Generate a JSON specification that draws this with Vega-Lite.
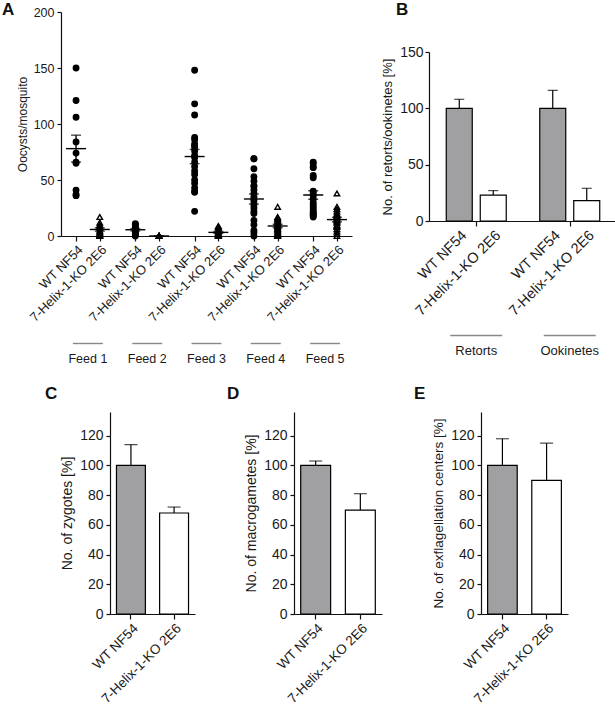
{
"$schema": "https://vega.github.io/schema/vega-lite/v6.json",
"padding": {"left": 2, "top": 1, "right": 0, "bottom": 0},
"config": {
  "view": {"stroke": null},
  "font": "Liberation Sans",
  "axis": {"grid": false, "labelFont": "Liberation Sans", "titleFont": "Liberation Sans", "labelColor": "#1a1a1a", "titleColor": "#1a1a1a", "domainColor": "#111", "tickColor": "#111", "domainWidth": 1.2, "tickWidth": 1.2, "titleFontWeight": "normal", "tickSize": 4},
  "text": {"font": "Liberation Sans", "color": "#1a1a1a"},
  "title": {"font": "Liberation Sans", "fontSize": 17, "fontWeight": "bold", "color": "#111", "anchor": "start", "frame": "group", "baseline": "alphabetic"}
},
"datasets": {
  "oocysts": [
    {"cat":"1W","s":"WT","v":150},{"cat":"1W","s":"WT","v":121},{"cat":"1W","s":"WT","v":106},{"cat":"1W","s":"WT","v":84},{"cat":"1W","s":"WT","v":74},{"cat":"1W","s":"WT","v":66},{"cat":"1W","s":"WT","v":65},{"cat":"1W","s":"WT","v":41},{"cat":"1W","s":"WT","v":37},{"cat":"1W","s":"WT","v":36},
    {"cat":"1K","s":"KO","v":17},{"cat":"1K","s":"KO","v":12},{"cat":"1K","s":"KO","v":10},{"cat":"1K","s":"KO","v":9},{"cat":"1K","s":"KO","v":7},{"cat":"1K","s":"KO","v":5},{"cat":"1K","s":"KO","v":4},{"cat":"1K","s":"KO","v":3},{"cat":"1K","s":"KO","v":2},{"cat":"1K","s":"KO","v":1},{"cat":"1K","s":"KO","v":0},{"cat":"1K","s":"KO","v":0},
    {"cat":"2W","s":"WT","v":11},{"cat":"2W","s":"WT","v":10},{"cat":"2W","s":"WT","v":10},{"cat":"2W","s":"WT","v":8},{"cat":"2W","s":"WT","v":7},{"cat":"2W","s":"WT","v":6},{"cat":"2W","s":"WT","v":5},{"cat":"2W","s":"WT","v":4},{"cat":"2W","s":"WT","v":3},{"cat":"2W","s":"WT","v":2},{"cat":"2W","s":"WT","v":1},{"cat":"2W","s":"WT","v":0},
    {"cat":"2K","s":"KO","v":0},{"cat":"2K","s":"KO","v":0},{"cat":"2K","s":"KO","v":0},{"cat":"2K","s":"KO","v":0},{"cat":"2K","s":"KO","v":0},{"cat":"2K","s":"KO","v":0},{"cat":"2K","s":"KO","v":0},{"cat":"2K","s":"KO","v":0},
    {"cat":"3W","s":"WT","v":148},{"cat":"3W","s":"WT","v":118},{"cat":"3W","s":"WT","v":108},{"cat":"3W","s":"WT","v":88},{"cat":"3W","s":"WT","v":86},{"cat":"3W","s":"WT","v":82},{"cat":"3W","s":"WT","v":81},{"cat":"3W","s":"WT","v":79},{"cat":"3W","s":"WT","v":76},{"cat":"3W","s":"WT","v":72},{"cat":"3W","s":"WT","v":70},{"cat":"3W","s":"WT","v":66},{"cat":"3W","s":"WT","v":62},{"cat":"3W","s":"WT","v":58},{"cat":"3W","s":"WT","v":55},{"cat":"3W","s":"WT","v":50},{"cat":"3W","s":"WT","v":47},{"cat":"3W","s":"WT","v":43},{"cat":"3W","s":"WT","v":40},{"cat":"3W","s":"WT","v":39},{"cat":"3W","s":"WT","v":22},
    {"cat":"3K","s":"KO","v":9},{"cat":"3K","s":"KO","v":8},{"cat":"3K","s":"KO","v":7},{"cat":"3K","s":"KO","v":5},{"cat":"3K","s":"KO","v":4},{"cat":"3K","s":"KO","v":3},{"cat":"3K","s":"KO","v":2},{"cat":"3K","s":"KO","v":2},{"cat":"3K","s":"KO","v":1},{"cat":"3K","s":"KO","v":1},{"cat":"3K","s":"KO","v":0},{"cat":"3K","s":"KO","v":0},{"cat":"3K","s":"KO","v":0},
    {"cat":"4W","s":"WT","v":69},{"cat":"4W","s":"WT","v":69},{"cat":"4W","s":"WT","v":60},{"cat":"4W","s":"WT","v":53},{"cat":"4W","s":"WT","v":49},{"cat":"4W","s":"WT","v":45},{"cat":"4W","s":"WT","v":44},{"cat":"4W","s":"WT","v":41},{"cat":"4W","s":"WT","v":38},{"cat":"4W","s":"WT","v":35},{"cat":"4W","s":"WT","v":33},{"cat":"4W","s":"WT","v":31},{"cat":"4W","s":"WT","v":28},{"cat":"4W","s":"WT","v":25},{"cat":"4W","s":"WT","v":22},{"cat":"4W","s":"WT","v":20},{"cat":"4W","s":"WT","v":14},{"cat":"4W","s":"WT","v":10},{"cat":"4W","s":"WT","v":5},{"cat":"4W","s":"WT","v":3},{"cat":"4W","s":"WT","v":0},
    {"cat":"4K","s":"KO","v":26},{"cat":"4K","s":"KO","v":17},{"cat":"4K","s":"KO","v":16},{"cat":"4K","s":"KO","v":15},{"cat":"4K","s":"KO","v":14},{"cat":"4K","s":"KO","v":13},{"cat":"4K","s":"KO","v":12},{"cat":"4K","s":"KO","v":11},{"cat":"4K","s":"KO","v":10},{"cat":"4K","s":"KO","v":9},{"cat":"4K","s":"KO","v":8},{"cat":"4K","s":"KO","v":7},{"cat":"4K","s":"KO","v":6},{"cat":"4K","s":"KO","v":5},{"cat":"4K","s":"KO","v":4},{"cat":"4K","s":"KO","v":3},{"cat":"4K","s":"KO","v":2},{"cat":"4K","s":"KO","v":1},{"cat":"4K","s":"KO","v":0},{"cat":"4K","s":"KO","v":0},
    {"cat":"5W","s":"WT","v":66},{"cat":"5W","s":"WT","v":65},{"cat":"5W","s":"WT","v":62},{"cat":"5W","s":"WT","v":61},{"cat":"5W","s":"WT","v":54},{"cat":"5W","s":"WT","v":52},{"cat":"5W","s":"WT","v":40},{"cat":"5W","s":"WT","v":38},{"cat":"5W","s":"WT","v":36},{"cat":"5W","s":"WT","v":33},{"cat":"5W","s":"WT","v":30},{"cat":"5W","s":"WT","v":28},{"cat":"5W","s":"WT","v":26},{"cat":"5W","s":"WT","v":24},{"cat":"5W","s":"WT","v":22},{"cat":"5W","s":"WT","v":21},{"cat":"5W","s":"WT","v":20},{"cat":"5W","s":"WT","v":19},{"cat":"5W","s":"WT","v":18},{"cat":"5W","s":"WT","v":17},
    {"cat":"5K","s":"KO","v":38},{"cat":"5K","s":"KO","v":26},{"cat":"5K","s":"KO","v":24},{"cat":"5K","s":"KO","v":22},{"cat":"5K","s":"KO","v":20},{"cat":"5K","s":"KO","v":19},{"cat":"5K","s":"KO","v":18},{"cat":"5K","s":"KO","v":17},{"cat":"5K","s":"KO","v":16},{"cat":"5K","s":"KO","v":15},{"cat":"5K","s":"KO","v":14},{"cat":"5K","s":"KO","v":13},{"cat":"5K","s":"KO","v":12},{"cat":"5K","s":"KO","v":10},{"cat":"5K","s":"KO","v":9},{"cat":"5K","s":"KO","v":8},{"cat":"5K","s":"KO","v":6},{"cat":"5K","s":"KO","v":4},{"cat":"5K","s":"KO","v":2},{"cat":"5K","s":"KO","v":0}
  ],
  "sigA": [{"cat":"1g","t":"***"},{"cat":"2g","t":"*"},{"cat":"3g","t":"***"},{"cat":"4g","t":"***"},{"cat":"5g","t":"***"}],
  "feeds": [{"cat":"1g","label":"Feed 1"},{"cat":"2g","label":"Feed 2"},{"cat":"3g","label":"Feed 3"},{"cat":"4g","label":"Feed 4"},{"cat":"5g","label":"Feed 5"}],
  "bdata": [
    {"cat":"RW","s":"WT","v":100,"hi":108},
    {"cat":"RK","s":"KO","v":23,"hi":27},
    {"cat":"OW","s":"WT","v":100,"hi":116},
    {"cat":"OK","s":"KO","v":18,"hi":29}
  ],
  "sigB": [{"cat":"Rm","t":"****"},{"cat":"Om","t":"****"}],
  "groupsB": [{"cat":"Rm","label":"Retorts"},{"cat":"Om","label":"Ookinetes"}]
},
"vconcat": [
  {
    "hconcat": [
      {
        "vconcat": [
          {
            "width": 291, "height": 224,
            "title": {"text": "A", "dx": -59, "offset": -13},
            "encoding": {
              "x": {"field": "cat", "type": "nominal",
                "scale": {"type": "point", "padding": 0.27, "domain": ["0a","1W","1g","1K","1s","1t","2W","2g","2K","2s","2t","3W","3g","3K","3s","3t","4W","4g","4K","4s","4t","5W","5g","5K","6a"]},
                "axis": {"values": ["1W","1K","2W","2K","3W","3K","4W","4K","5W","5K"], "labelExpr": "indexof(datum.value, 'W') >= 0 ? 'WT NF54' : '7-Helix-1-KO 2E6'", "labelAngle": -45, "labelAlign": "right", "labelBaseline": "top", "labelFontSize": 13, "labelPadding": 2, "tickSize": 5, "title": null}},
              "y": {"field": "v", "type": "quantitative", "scale": {"domain": [0, 200], "nice": false},
                "axis": {"values": [0, 50, 100, 150, 200], "title": "Oocysts/mosquito", "titleFontSize": 12, "labelFontSize": 12.5, "labelPadding": 3, "titlePadding": 4}}
            },
            "layer": [
              {"data": {"name": "oocysts"},
               "mark": {"type": "point", "filled": true, "size": 30, "opacity": 1, "strokeWidth": 1.4, "stroke": "black"},
               "encoding": {
                 "shape": {"field": "s", "type": "nominal", "scale": {"domain": ["WT","KO"], "range": ["circle","triangle-up"]}, "legend": null},
                 "fill": {"field": "s", "type": "nominal", "scale": {"domain": ["WT","KO"], "range": ["black","transparent"]}, "legend": null}
               }},
              {"data": {"name": "oocysts"},
               "mark": {"type": "tick", "orient": "horizontal", "size": 20, "thickness": 1.4, "color": "black"},
               "encoding": {"y": {"aggregate": "mean", "field": "v", "type": "quantitative"}}},
              {"data": {"name": "oocysts"},
               "mark": {"type": "errorbar", "extent": "stderr", "ticks": {"size": 10, "thickness": 1.4, "color": "black"}, "rule": {"strokeWidth": 1.4, "color": "black"}},
               "encoding": {"y": {"field": "v", "type": "quantitative"}}},
              {"data": {"name": "sigA"},
               "mark": {"type": "tick", "orient": "horizontal", "size": 30, "thickness": 1.3, "color": "#333"},
               "encoding": {"y": {"datum": 183, "type": "quantitative"}}},
              {"data": {"name": "sigA"},
               "mark": {"type": "text", "fontSize": 9, "baseline": "middle"},
               "encoding": {"y": {"datum": 190, "type": "quantitative"}, "text": {"field": "t"}}}
            ]
          },
          {
            "width": 291, "height": 30,
            "data": {"name": "feeds"},
            "encoding": {
              "x": {"field": "cat", "type": "nominal", "axis": null,
                "scale": {"type": "point", "padding": 0.27, "domain": ["0a","1W","1g","1K","1s","1t","2W","2g","2K","2s","2t","3W","3g","3K","3s","3t","4W","4g","4K","4s","4t","5W","5g","5K","6a"]}}
            },
            "layer": [
              {"mark": {"type": "tick", "orient": "horizontal", "size": 30, "thickness": 1.4, "color": "#555"},
               "encoding": {"y": {"datum": "line", "type": "nominal", "scale": {"type": "point", "domain": ["line","label"], "padding": 0.5}, "axis": null}}},
              {"mark": {"type": "text", "fontSize": 12.5, "baseline": "middle"},
               "encoding": {"y": {"datum": "label", "type": "nominal", "scale": {"type": "point", "domain": ["line","label"], "padding": 0.5}, "axis": null}, "text": {"field": "label"}}}
            ]
          }
        ],
        "spacing": 11,
        "resolve": {"scale": {"x": "independent", "y": "independent"}}
      },
      {
        "vconcat": [
          {
            "width": 188, "height": 26,
            "title": {"text": "B", "dx": -33, "offset": -7},
            "data": {"values": []},
            "mark": {"type": "point"},
            "encoding": {}
          },
          {
            "width": 188, "height": 169,
            "encoding": {
              "x": {"field": "cat", "type": "nominal",
                "scale": {"type": "point", "padding": 0.56, "domain": ["b1","b2","b3","RW","r1","Rm","r2","RK","g1","g2","g3","g4","g5","g6","OW","o1","Om","o2","OK","e1","e2","e3"]},
                "axis": {"values": ["RW","Rm","RK","OW","Om","OK"],
                  "labelExpr": "(datum.value == 'RW' || datum.value == 'OW') ? 'WT NF54' : ((datum.value == 'RK' || datum.value == 'OK') ? '7-Helix-1-KO  2E6' : '')",
                  "tickColor": {"condition": {"test": "datum.value == 'Rm' || datum.value == 'Om'", "value": "#111"}, "value": "transparent"},
                  "labelAngle": -45, "labelAlign": "right", "labelBaseline": "top", "labelFontSize": 14.5, "labelPadding": 2, "tickSize": 5, "title": null}},
              "y": {"field": "v", "type": "quantitative", "scale": {"domain": [0, 150], "nice": false},
                "axis": {"values": [0, 50, 100, 150], "title": "No. of retorts/ookinetes [%]", "titleFontSize": 13, "labelFontSize": 14, "labelPadding": 2, "titlePadding": 5}}
            },
            "layer": [
              {"data": {"name": "bdata"},
               "mark": {"type": "bar", "size": 26, "stroke": "black", "strokeWidth": 1.2},
               "encoding": {"fill": {"field": "s", "type": "nominal", "scale": {"domain": ["WT","KO"], "range": ["#a0a0a2","white"]}, "legend": null}}},
              {"data": {"name": "bdata"},
               "mark": {"type": "rule", "strokeWidth": 1.2, "color": "black"},
               "encoding": {"y2": {"field": "hi"}}},
              {"data": {"name": "bdata"},
               "mark": {"type": "tick", "orient": "horizontal", "size": 10, "thickness": 1.2, "color": "black"},
               "encoding": {"y": {"field": "hi", "type": "quantitative"}}},
              {"data": {"name": "sigB"},
               "mark": {"type": "tick", "orient": "horizontal", "size": 55, "thickness": 1.3, "color": "#333"},
               "encoding": {"y": {"datum": 128, "type": "quantitative"}}},
              {"data": {"name": "sigB"},
               "mark": {"type": "text", "fontSize": 9, "baseline": "middle"},
               "encoding": {"y": {"datum": 136, "type": "quantitative"}, "text": {"field": "t"}}}
            ]
          },
          {
            "width": 188, "height": 30,
            "data": {"name": "groupsB"},
            "encoding": {
              "x": {"field": "cat", "type": "nominal", "axis": null,
                "scale": {"type": "point", "padding": 0.56, "domain": ["b1","b2","b3","RW","r1","Rm","r2","RK","g1","g2","g3","g4","g5","g6","OW","o1","Om","o2","OK","e1","e2","e3"]}}
            },
            "layer": [
              {"mark": {"type": "tick", "orient": "horizontal", "size": 52, "thickness": 1.4, "color": "#555"},
               "encoding": {"y": {"datum": "line", "type": "nominal", "scale": {"type": "point", "domain": ["line","label"], "padding": 0.5}, "axis": null}}},
              {"mark": {"type": "text", "fontSize": 13, "baseline": "middle"},
               "encoding": {"y": {"datum": "label", "type": "nominal", "scale": {"type": "point", "domain": ["line","label"], "padding": 0.5}, "axis": null}, "text": {"field": "label"}}}
            ]
          }
        ],
        "spacing": 7,
        "resolve": {"scale": {"x": "independent", "y": "independent"}}
      }
    ],
    "spacing": 29,
    "resolve": {"scale": {"x": "independent", "y": "independent", "fill": "independent", "shape": "independent"}}
  },
  {
    "hconcat": [
      {
        "width": 85, "height": 202,
        "title": {"text": "C", "dx": -65, "offset": 9},
        "encoding": {
          "x": {"field": "s", "type": "nominal", "scale": {"domain": ["WT NF54","7-Helix-1-KO 2E6"], "paddingInner": 0.33, "paddingOuter": 0.15},
            "axis": {"labelAngle": -45, "labelAlign": "right", "labelBaseline": "top", "labelFontSize": 13.5, "labelPadding": 2, "tickSize": 5, "title": null}},
          "y": {"field": "v", "type": "quantitative", "scale": {"domain": [0, 136], "nice": false},
            "axis": {"values": [0, 20, 40, 60, 80, 100, 120], "title": "No. of zygotes [%]", "titleFontSize": 14, "labelFontSize": 14, "labelPadding": 3, "titlePadding": 5}}
        },
        "layer": [
          {"data": {"values": [{"s":"WT NF54","v":100,"hi":114},{"s":"7-Helix-1-KO 2E6","v":68,"hi":72}]},
           "layer": [
             {"mark": {"type": "bar", "stroke": "black", "strokeWidth": 1.2},
              "encoding": {"fill": {"field": "s", "type": "nominal", "scale": {"domain": ["WT NF54","7-Helix-1-KO 2E6"], "range": ["#a0a0a2","white"]}, "legend": null}}},
             {"mark": {"type": "rule", "strokeWidth": 1.2, "color": "black"}, "encoding": {"y2": {"field": "hi"}}},
             {"mark": {"type": "tick", "orient": "horizontal", "size": 13, "thickness": 1.2, "color": "black"}, "encoding": {"y": {"field": "hi", "type": "quantitative"}}}
           ]},
          {"data": {"values": [{"t": "*"}]},
           "layer": [
             {"mark": {"type": "rule", "strokeWidth": 1.3, "color": "#333"},
              "encoding": {"x": {"datum": "WT NF54", "bandPosition": 0}, "x2": {"datum": "7-Helix-1-KO 2E6", "bandPosition": 1}, "y": {"datum": 122, "type": "quantitative"}}},
             {"mark": {"type": "text", "fontSize": 11, "baseline": "middle"},
              "encoding": {"x": null, "y": {"datum": 129, "type": "quantitative"}, "text": {"field": "t"}}}
           ]}
        ]
      },
      {
        "width": 88, "height": 202,
        "title": {"text": "D", "dx": -67, "offset": 9},
        "encoding": {
          "x": {"field": "s", "type": "nominal", "scale": {"domain": ["WT NF54","7-Helix-1-KO 2E6"], "paddingInner": 0.33, "paddingOuter": 0.15},
            "axis": {"labelAngle": -45, "labelAlign": "right", "labelBaseline": "top", "labelFontSize": 13.5, "labelPadding": 2, "tickSize": 5, "title": null}},
          "y": {"field": "v", "type": "quantitative", "scale": {"domain": [0, 136], "nice": false},
            "axis": {"values": [0, 20, 40, 60, 80, 100, 120], "title": "No. of macrogametes [%]", "titleFontSize": 14, "labelFontSize": 14, "labelPadding": 3, "titlePadding": 5}}
        },
        "layer": [
          {"data": {"values": [{"s":"WT NF54","v":100,"hi":103},{"s":"7-Helix-1-KO 2E6","v":70,"hi":81}]},
           "layer": [
             {"mark": {"type": "bar", "stroke": "black", "strokeWidth": 1.2},
              "encoding": {"fill": {"field": "s", "type": "nominal", "scale": {"domain": ["WT NF54","7-Helix-1-KO 2E6"], "range": ["#a0a0a2","white"]}, "legend": null}}},
             {"mark": {"type": "rule", "strokeWidth": 1.2, "color": "black"}, "encoding": {"y2": {"field": "hi"}}},
             {"mark": {"type": "tick", "orient": "horizontal", "size": 13, "thickness": 1.2, "color": "black"}, "encoding": {"y": {"field": "hi", "type": "quantitative"}}}
           ]},
          {"data": {"values": [{"t": "*"}]},
           "layer": [
             {"mark": {"type": "rule", "strokeWidth": 1.3, "color": "#333"},
              "encoding": {"x": {"datum": "WT NF54", "bandPosition": 0}, "x2": {"datum": "7-Helix-1-KO 2E6", "bandPosition": 1}, "y": {"datum": 118.5, "type": "quantitative"}}},
             {"mark": {"type": "text", "fontSize": 11, "baseline": "middle"},
              "encoding": {"x": null, "y": {"datum": 126, "type": "quantitative"}, "text": {"field": "t"}}}
           ]}
        ]
      },
      {
        "width": 87, "height": 202,
        "title": {"text": "E", "dx": -67, "offset": 9},
        "data": {"values": [{"s":"WT NF54","v":100,"hi":118},{"s":"7-Helix-1-KO 2E6","v":90,"hi":115}]},
        "encoding": {
          "x": {"field": "s", "type": "nominal", "scale": {"domain": ["WT NF54","7-Helix-1-KO 2E6"], "paddingInner": 0.33, "paddingOuter": 0.15},
            "axis": {"labelAngle": -45, "labelAlign": "right", "labelBaseline": "top", "labelFontSize": 13.5, "labelPadding": 2, "tickSize": 5, "title": null}},
          "y": {"field": "v", "type": "quantitative", "scale": {"domain": [0, 136], "nice": false},
            "axis": {"values": [0, 20, 40, 60, 80, 100, 120], "title": "No. of exflagellation centers [%]", "titleFontSize": 13.5, "labelFontSize": 14, "labelPadding": 3, "titlePadding": 5}}
        },
        "layer": [
          {"mark": {"type": "bar", "stroke": "black", "strokeWidth": 1.2},
           "encoding": {"fill": {"field": "s", "type": "nominal", "scale": {"domain": ["WT NF54","7-Helix-1-KO 2E6"], "range": ["#a0a0a2","white"]}, "legend": null}}},
          {"mark": {"type": "rule", "strokeWidth": 1.2, "color": "black"}, "encoding": {"y2": {"field": "hi"}}},
          {"mark": {"type": "tick", "orient": "horizontal", "size": 13, "thickness": 1.2, "color": "black"}, "encoding": {"y": {"field": "hi", "type": "quantitative"}}}
        ]
      }
    ],
    "spacing": 32,
    "resolve": {"scale": {"x": "independent", "y": "independent", "fill": "independent"}}
  }
],
"spacing": 19,
"center": true,
"resolve": {"scale": {"x": "independent", "y": "independent", "fill": "independent", "shape": "independent"}}
}
